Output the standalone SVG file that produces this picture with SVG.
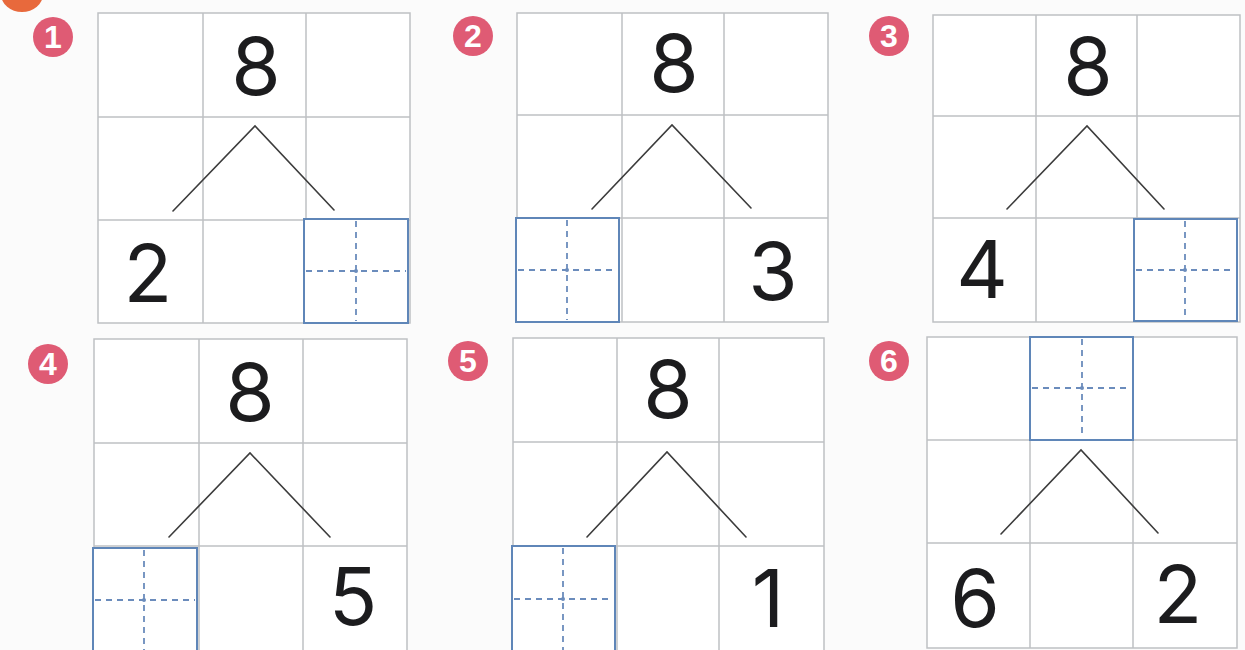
<svg xmlns="http://www.w3.org/2000/svg" width="1245" height="650" viewBox="0 0 1245 650">
<style>
.bg{fill:#fbfbfb}
.grid{fill:none;stroke:#bfc1c4;stroke-width:1.5}
.blue{fill:#ffffff;stroke:#5f86b8;stroke-width:2}
.dash{stroke:#6b8cbc;stroke-width:1.8;stroke-dasharray:6 5;fill:none}
.dot{fill:#6b8cbc}
.conn{fill:none;stroke:#3c3c3c;stroke-width:1.6;stroke-linecap:round;stroke-linejoin:miter}
.num{font-family:Inter,"Liberation Sans",sans-serif;font-weight:400;font-size:80px;fill:#1c1c1e;text-anchor:middle}
.badge{fill:#df5b74}
.bnum{font-family:"Liberation Sans",Arial,sans-serif;font-weight:bold;font-size:32px;fill:#ffffff;text-anchor:middle}
</style>
<rect class="bg" x="0" y="0" width="1245" height="650"/>
<ellipse cx="22" cy="-6" rx="21" ry="18" fill="#e8693c"/>

<g id="panel1">
  <rect x="98" y="13" width="312" height="310" fill="#ffffff"/>
  <path class="grid" d="M98 13H410V323H98Z M203 13V323 M306 13V323 M98 117H410 M98 220H410"/>
  <rect class="blue" x="304" y="219" width="104" height="104"/>
  <path class="dash" d="M356 221V321 M306 271H406"/>
  <circle class="dot" cx="356" cy="271" r="2"/>
  <circle class="badge" cx="53" cy="37" r="20"/>
  <text class="bnum" x="53" y="48">1</text>
  <text class="num" x="256" y="95">8</text>
  <text class="num" x="148" y="302">2</text>
</g>

<g id="panel2">
  <rect x="517" y="13" width="311" height="309" fill="#ffffff"/>
  <path class="grid" d="M517 13H828V322H517Z M622 13V322 M724 13V322 M517 115H828 M517 218H828"/>
  <rect class="blue" x="516" y="218" width="103" height="104"/>
  <path class="dash" d="M567 220V320 M518 270H617"/>
  <circle class="dot" cx="567" cy="270" r="2"/>
  <circle class="badge" cx="473" cy="36" r="20"/>
  <text class="bnum" x="473" y="47">2</text>
  <text class="num" x="674" y="92">8</text>
  <text class="num" x="773" y="300">3</text>
</g>

<g id="panel3">
  <rect x="933" y="15" width="307" height="307" fill="#ffffff"/>
  <path class="grid" d="M933 15H1240V322H933Z M1036 15V322 M1137 15V322 M933 116H1240 M933 218H1240"/>
  <rect class="blue" x="1134" y="219" width="103" height="102"/>
  <path class="dash" d="M1185 221V319 M1136 270H1235"/>
  <circle class="dot" cx="1185" cy="270" r="2"/>
  <circle class="badge" cx="889" cy="36" r="20"/>
  <text class="bnum" x="889" y="47">3</text>
  <text class="num" x="1088" y="95">8</text>
  <text class="num" x="982" y="298">4</text>
</g>

<g id="panel4">
  <rect x="94" y="339" width="313" height="311" fill="#ffffff"/>
  <path class="grid" d="M94 650V339H407V650 M199 339V650 M303 339V650 M94 443H407 M94 546H407"/>
  <rect class="blue" x="93" y="548" width="104" height="104"/>
  <path class="dash" d="M144 550V650 M95 600H195"/>
  <circle class="dot" cx="144" cy="600" r="2"/>
  <circle class="badge" cx="48" cy="364" r="20"/>
  <text class="bnum" x="48" y="375">4</text>
  <text class="num" x="250" y="421">8</text>
  <text class="num" x="353" y="625">5</text>
</g>

<g id="panel5">
  <rect x="513" y="338" width="311" height="312" fill="#ffffff"/>
  <path class="grid" d="M513 650V338H824V650 M617 338V650 M719 338V650 M513 442H824 M513 546H824"/>
  <rect class="blue" x="512" y="546" width="103" height="106"/>
  <path class="dash" d="M563 548V650 M514 599H613"/>
  <circle class="dot" cx="563" cy="599" r="2"/>
  <circle class="badge" cx="468" cy="361" r="20"/>
  <text class="bnum" x="468" y="372">5</text>
  <text class="num" x="668" y="418">8</text>
  <text class="num" x="768" y="627">1</text>
</g>

<g id="panel6">
  <rect x="927" y="337" width="310" height="311" fill="#ffffff"/>
  <path class="grid" d="M927 337H1237V648H927Z M1030 337V648 M1133 337V648 M927 440H1237 M927 543H1237"/>
  <rect class="blue" x="1030" y="337" width="103" height="103"/>
  <path class="dash" d="M1082 339V438 M1032 388H1131"/>
  <circle class="dot" cx="1082" cy="388" r="2"/>
  <circle class="badge" cx="889" cy="361" r="20"/>
  <text class="bnum" x="889" y="372">6</text>
  <text class="num" x="975" y="627">6</text>
  <text class="num" x="1178" y="623">2</text>
</g>

<g id="connectors">
  <path class="conn" d="M173 211L255 126L334 210"/>
  <path class="conn" d="M592 209L672 125L751 208"/>
  <path class="conn" d="M1007 209L1087 126L1164 209"/>
  <path class="conn" d="M169 537L250 453L330 537"/>
  <path class="conn" d="M587 537L667 452L746 537"/>
  <path class="conn" d="M1001 534L1081 450L1158 533"/>
</g>
</svg>
